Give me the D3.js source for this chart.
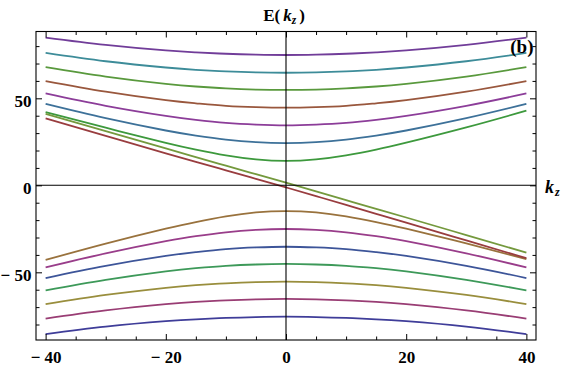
<!DOCTYPE html>
<html>
<head>
<meta charset="utf-8">
<script src="https://cdn.jsdelivr.net/npm/d3@7"></script>
<style>
  html, body { margin: 0; padding: 0; background: #fff; }
  svg { display: block; }
  text { font-family: "Liberation Serif", "Times New Roman", serif; font-weight: bold; }
</style>
</head>
<body>
<svg id="chart" width="565" height="369"></svg>
<script>
// ---- data ----
const kz = [-40, -30, -20, -15, -10, -5, 0, 5, 10, 15, 20, 30, 40];

// lower (valence) Landau levels, bottom to top
const lower7 = [-85.5, -81.2, -78.1, -77.0, -76.2, -75.7, -75.5, -75.7, -76.2, -77.0, -78.1, -81.2, -85.5];
const lower6 = [-76.6, -71.9, -68.3, -67.0, -66.1, -65.5, -65.3, -65.5, -66.1, -67.0, -68.3, -71.9, -76.6];
const lower5 = [-68.3, -63.0, -58.9, -57.4, -56.3, -55.6, -55.4, -55.6, -56.3, -57.4, -58.9, -63.0, -68.3];
const lower4 = [-60.4, -54.3, -49.4, -47.6, -46.3, -45.5, -45.2, -45.5, -46.3, -47.6, -49.4, -54.3, -60.4];
const lower3 = [-53.3, -46.3, -40.6, -38.4, -36.7, -35.7, -35.3, -35.7, -36.7, -38.4, -40.6, -46.3, -53.3];
const lower2 = [-47.2, -39.1, -32.1, -29.2, -27.0, -25.6, -25.1, -25.6, -27.0, -29.2, -32.1, -39.1, -47.2];
const lower1 = [-42.9, -33.5, -24.9, -21.1, -17.9, -15.6, -14.8, -15.6, -17.9, -21.1, -24.9, -33.4, -42.4];

// upper (conduction) Landau levels, bottom to top
const upper1 = [42.1, 33.1, 24.4, 20.5, 17.2, 14.9, 14.0, 14.9, 17.2, 20.5, 24.5, 33.3, 42.9];
const upper2 = [46.8, 38.6, 31.5, 28.6, 26.3, 24.8, 24.3, 24.8, 26.3, 28.6, 31.5, 38.6, 46.8];
const upper3 = [52.8, 45.7, 39.9, 37.6, 35.9, 34.9, 34.5, 34.9, 35.9, 37.6, 39.9, 45.7, 52.8];
const upper4 = [59.9, 53.8, 48.9, 47.1, 45.7, 44.9, 44.6, 44.9, 45.7, 47.1, 48.9, 53.8, 59.9];
const upper5 = [67.9, 62.5, 58.3, 56.8, 55.7, 55.0, 54.8, 55.0, 55.7, 56.8, 58.3, 62.5, 67.9];
const upper6 = [76.1, 71.3, 67.7, 66.4, 65.5, 64.9, 64.7, 64.9, 65.5, 66.4, 67.7, 71.3, 76.1];
const upper7 = [84.9, 80.7, 77.5, 76.4, 75.6, 75.1, 74.9, 75.1, 75.6, 76.4, 77.5, 80.7, 84.9];

// chiral (zeroth) levels
const chiralA = [38.5, 28.4, 18.4, 13.5, 8.6, 3.7, -1.2, -6.2, -11.3, -16.4, -21.5, -31.7, -41.9];
const chiralB = [41.0, 31.1, 21.2, 16.2, 11.3, 6.4, 1.5, -3.5, -8.5, -13.5, -18.5, -28.6, -38.7];

const seriesList = [lower7, lower6, lower5, lower4, lower3, lower2, lower1,
                    upper1, upper2, upper3, upper4, upper5, upper6, upper7,
                    chiralA, chiralB];

// Mathematica default plot style hues (Hue[h, 0.6, 0.6])
const hues = [0.67, 0.9, 0.1467, 0.3833, 0.6233, 0.86, 0.0967, 0.3333,
              0.5733, 0.81, 0.0467, 0.2833, 0.5233, 0.76, 0.9967, 0.2333];

const xMajor = [-40, -20, 0, 20, 40];
const xMinor = [-35, -30, -25, -15, -10, -5, 5, 10, 15, 25, 30, 35];
const yMajor = [-50, 0, 50];
const yMinor = [-80, -70, -60, -40, -30, -20, -10, 10, 20, 30, 40, 60, 70, 80];

// ---- helpers ----
function hsv(h, s, v) {
  const c = v * s, hp = (h * 6) % 6, xx = c * (1 - Math.abs(hp % 2 - 1)), m = v - c;
  let r = 0, g = 0, b = 0;
  if (hp < 1) { r = c; g = xx; }
  else if (hp < 2) { r = xx; g = c; }
  else if (hp < 3) { g = c; b = xx; }
  else if (hp < 4) { g = xx; b = c; }
  else if (hp < 5) { r = xx; b = c; }
  else { r = c; b = xx; }
  return d3.rgb((r + m) * 255, (g + m) * 255, (b + m) * 255).formatHex();
}

// ---- layout ----
const svg = d3.select("#chart");
const L = 36, R = 536, T = 31.5, B = 340;
const x = d3.scaleLinear().domain([-41.6, 41.6]).range([L, R]);
const y = d3.scaleLinear().domain([-88.9, 88.4]).range([B, T]);

svg.append("rect").attr("width", 565).attr("height", 369).attr("fill", "#fff");

// curves
const line = d3.line()
  .x((d, i) => x(kz[i]))
  .y(d => y(d))
  .curve(d3.curveNatural);

svg.append("g")
  .selectAll("path").data(seriesList).join("path")
  .attr("d", d => line(d))
  .attr("fill", "none")
  .attr("stroke", (d, i) => hsv(hues[i], 0.6, 0.6))
  .attr("stroke-width", 1.8)
  .attr("stroke-linejoin", "round");

// zero axes
svg.append("line").attr("x1", L).attr("x2", R).attr("y1", y(0)).attr("y2", y(0))
  .attr("stroke", "#000").attr("stroke-width", 1.1);
svg.append("line").attr("x1", x(0)).attr("x2", x(0)).attr("y1", T).attr("y2", B)
  .attr("stroke", "#000").attr("stroke-width", 1.1);

// frame ticks
const fmt = d => d < 0 ? "\u2212 " + Math.abs(d) : String(d);
function addAxis(gen, transform) {
  const g = svg.append("g").attr("transform", transform).call(gen);
  g.select(".domain").remove();
  g.selectAll("line").attr("stroke", "#000");
  g.selectAll("text").attr("font-size", 17).attr("fill", "#000")
    .style("font-family", "'Liberation Serif', serif").style("font-weight", "bold");
  return g;
}
addAxis(d3.axisBottom(x).tickValues(xMajor).tickSize(-6).tickPadding(11).tickFormat(fmt), `translate(0,${B})`);
addAxis(d3.axisBottom(x).tickValues(xMinor).tickSize(-3.5).tickFormat(""), `translate(0,${B})`);
addAxis(d3.axisTop(x).tickValues(xMajor).tickSize(-6).tickFormat(""), `translate(0,${T})`);
addAxis(d3.axisTop(x).tickValues(xMinor).tickSize(-3.5).tickFormat(""), `translate(0,${T})`);
const gl = addAxis(d3.axisLeft(y).tickValues(yMajor).tickSize(-6).tickPadding(4.5).tickFormat(fmt), `translate(${L},0)`);
gl.selectAll("text").attr("dy", "0.48em");
addAxis(d3.axisLeft(y).tickValues(yMinor).tickSize(-3.5).tickFormat(""), `translate(${L},0)`);
addAxis(d3.axisRight(y).tickValues(yMajor).tickSize(-6).tickFormat(""), `translate(${R},0)`);
addAxis(d3.axisRight(y).tickValues(yMinor).tickSize(-3.5).tickFormat(""), `translate(${R},0)`);

// frame
svg.append("rect").attr("x", L).attr("y", T).attr("width", R - L).attr("height", B - T)
  .attr("fill", "none").attr("stroke", "#000").attr("stroke-width", 1.1);

// labels
const yl = svg.append("text").attr("x", 284).attr("y", 21).attr("text-anchor", "middle")
  .attr("font-size", 17).attr("fill", "#000");
yl.append("tspan").text("E(");
yl.append("tspan").attr("dx", 3).attr("font-style", "italic").text("k");
yl.append("tspan").attr("font-style", "italic").attr("font-size", 11.5).attr("dy", 3).text("z");
yl.append("tspan").attr("dx", 3).attr("dy", -3).text(")");

const xl = svg.append("text").attr("x", 545).attr("y", 193).attr("font-size", 18).attr("fill", "#000");
xl.append("tspan").attr("font-style", "italic").text("k");
xl.append("tspan").attr("font-style", "italic").attr("font-size", 12).attr("dy", 3).attr("dx", 1).text("z");

svg.append("text").attr("x", 533.5).attr("y", 52.5).attr("text-anchor", "end")
  .attr("font-size", 19).attr("fill", "#000").text("(b)");
</script>
</body>
</html>
